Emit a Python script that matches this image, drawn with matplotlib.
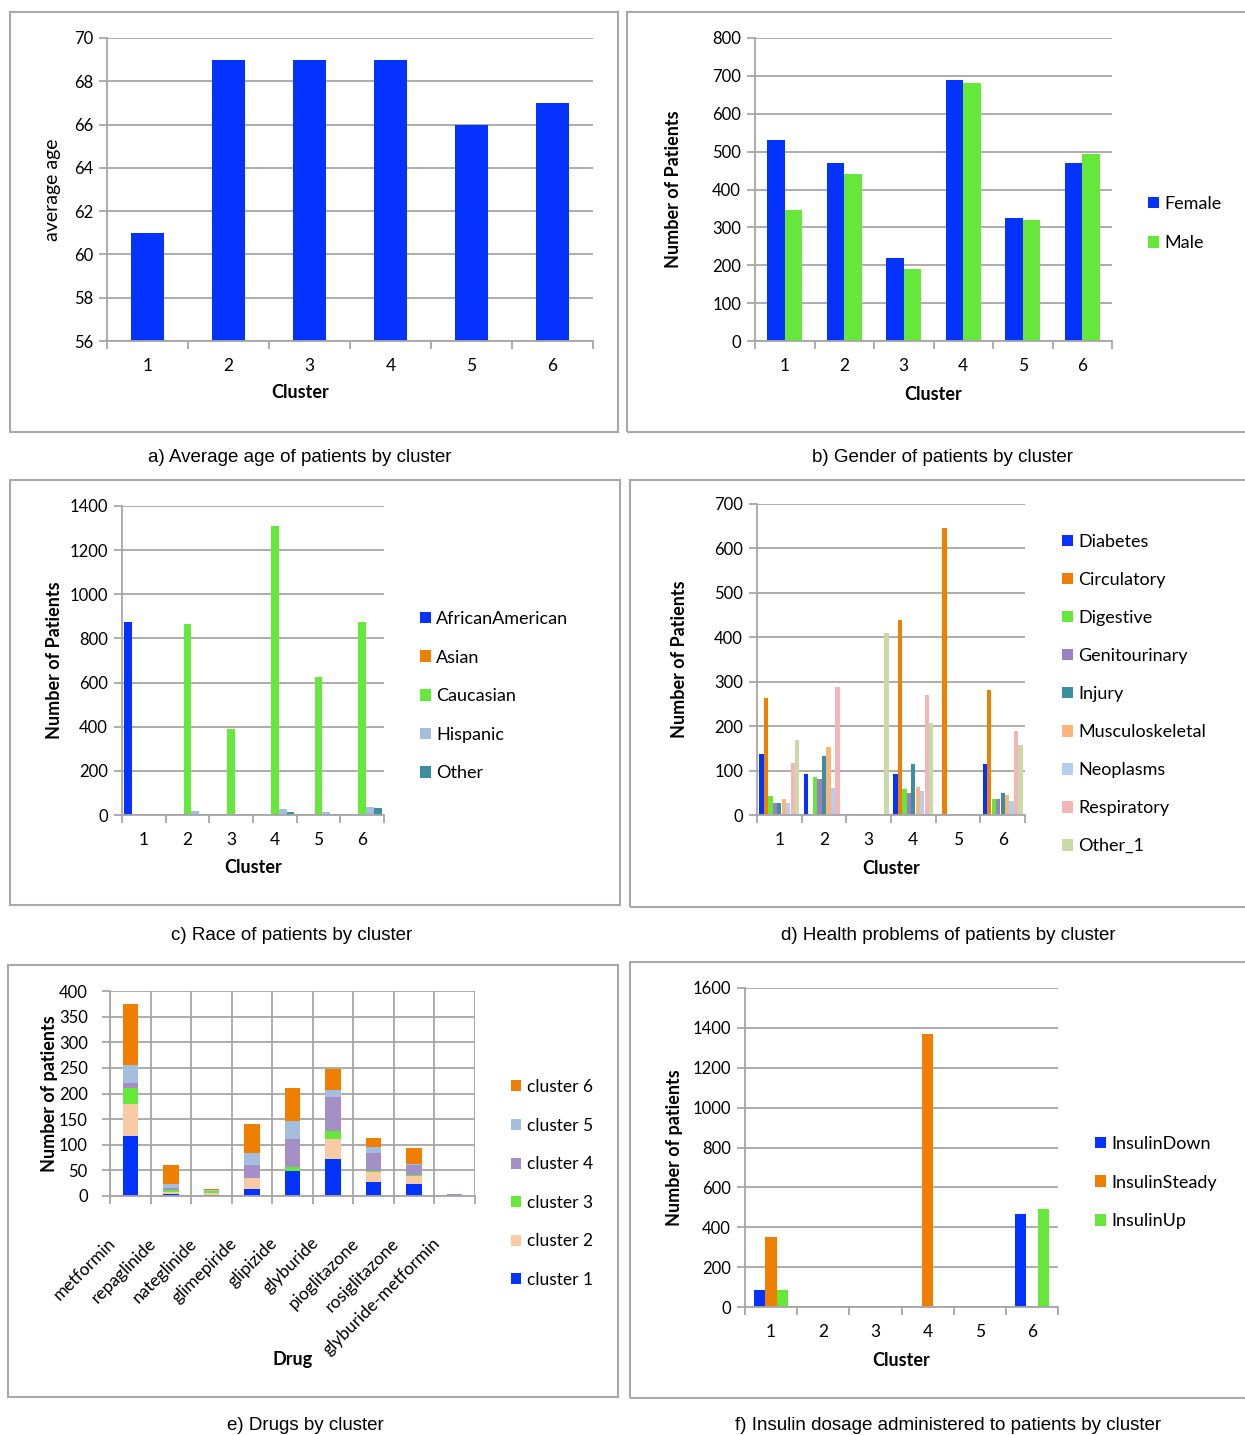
import matplotlib
matplotlib.use('Agg')
import matplotlib.pyplot as plt
from matplotlib.patches import Rectangle, Patch
from matplotlib.transforms import ScaledTranslation
import numpy as np

plt.rcParams['font.family'] = ['Lato', 'DejaVu Sans']

W, H = 1245, 1435

# ---- data ----
clusters = ['1', '2', '3', '4', '5', '6']

avg_age = [61, 69, 69, 69, 66, 67]

female = [530, 470, 220, 690, 325, 470]
male = [345, 440, 190, 680, 320, 495]

race_names = ['AfricanAmerican', 'Asian', 'Caucasian', 'Hispanic', 'Other']
african_american = [875, 0, 0, 0, 0, 0]
asian = [0, 2, 2, 2, 2, 2]
caucasian = [0, 865, 390, 1310, 625, 875]
hispanic = [0, 18, 4, 28, 12, 37]
other_race = [0, 0, 1, 12, 3, 30]

health_names = ['Diabetes', 'Circulatory', 'Digestive', 'Genitourinary', 'Injury',
                'Musculoskeletal', 'Neoplasms', 'Respiratory', 'Other_1']
diabetes = [137, 93, 0, 93, 0, 114]
circulatory = [264, 0, 0, 440, 645, 281]
digestive = [43, 85, 0, 59, 0, 37]
genitourinary = [28, 80, 0, 50, 0, 37]
injury = [28, 132, 0, 114, 0, 50]
musculoskeletal = [36, 154, 0, 64, 0, 46]
neoplasms = [28, 60, 0, 54, 0, 31]
respiratory = [116, 288, 0, 270, 0, 189]
other_1 = [169, 0, 409, 208, 0, 157]

drugs = ['metformin', 'repaglinide', 'nateglinide', 'glimepiride', 'glipizide',
         'glyburide', 'pioglitazone', 'rosiglitazone', 'glyburide-metformin']
drug_c1 = [118, 3, 1, 13, 49, 72, 27, 24, 0]
drug_c2 = [62, 5, 4, 23, 0, 40, 20, 15, 0]
drug_c3 = [30, 3, 4, 0, 8, 15, 1, 2, 0]
drug_c4 = [10, 5, 1, 24, 55, 67, 35, 20, 4]
drug_c5 = [35, 8, 1, 23, 34, 13, 12, 1, 0]
drug_c6 = [119, 37, 2, 57, 64, 41, 19, 31, 0]

insulin_names = ['InsulinDown', 'InsulinSteady', 'InsulinUp']
insulin_down = [85, 0, 0, 0, 0, 465]
insulin_steady = [350, 0, 0, 1370, 0, 0]
insulin_up = [85, 0, 0, 0, 0, 490]

# ---- colours ----
BLUE = '#0433FF'
GREEN = '#66E83A'
ORANGE = '#EE7F00'
GRID = '#a6a6a6'

fig = plt.figure(figsize=(W / 100, H / 100), dpi=100)


def px_axes(x0, y0, x1, y1):
    return fig.add_axes([x0 / W, 1 - y1 / H, (x1 - x0) / W, (y1 - y0) / H])


def frame(x0, y0, x1, y1):
    fig.patches.append(Rectangle((x0 / W, 1 - y1 / H), (x1 - x0) / W, (y1 - y0) / H,
                                 transform=fig.transFigure, fill=False,
                                 edgecolor='#a8a8a8', lw=1.5))


def caption(x, y, s):
    fig.text(x / W, 1 - y / H, s, ha='center', va='center', fontsize=13.5,
             family=['Liberation Sans', 'DejaVu Sans'])


def style(ax, labels, ymin, ymax, step, xlabel, ylabel, ybold=True,
          xpad=12, xlabelpad=9, ylabelpad=4):
    n = len(labels)
    ax.set_xlim(0.5, n + 0.5)
    ax.set_ylim(ymin, ymax)
    ax.set_yticks(np.arange(ymin, ymax + step / 2, step))
    ax.set_xticks(range(1, n + 1))
    ax.set_xticklabels(labels)
    ax.set_xticks(np.arange(0.5, n + 1), minor=True)
    ax.tick_params(axis='x', which='major', length=0, pad=xpad, labelsize=12.5)
    ax.tick_params(axis='x', which='minor', length=6, color=GRID, width=1.3)
    ax.tick_params(axis='y', length=6, color=GRID, width=1.3, labelsize=12, pad=4)
    ax.yaxis.grid(True, color=GRID, lw=1.3)
    ax.set_axisbelow(True)
    for s in ['top', 'right']:
        ax.spines[s].set_visible(False)
    for s in ['left', 'bottom']:
        ax.spines[s].set_color(GRID)
        ax.spines[s].set_linewidth(1.3)
    ax.set_xlabel(xlabel, fontsize=13, fontweight='bold', labelpad=xlabelpad)
    ax.set_ylabel(ylabel, fontsize=13 if ybold else 14,
                  fontweight='bold' if ybold else 'normal', labelpad=ylabelpad)


def legend(ax, names, colors, x, y, spacing=1.3, size=13):
    handles = [Patch(facecolor=c, edgecolor='none') for c in colors]
    ax.legend(handles, names, loc='upper left', bbox_to_anchor=(x / W, 1 - y / H),
              bbox_transform=fig.transFigure, frameon=False, fontsize=size,
              handlelength=0.6, handleheight=0.6, handletextpad=0.3,
              labelspacing=spacing, borderaxespad=0, borderpad=0)


x = np.arange(1, 7)

# ---- a) average age ----
frame(10, 12, 618, 432)
ax = px_axes(107, 38, 593, 341)
ax.bar(x, avg_age, width=0.41, color=BLUE)
style(ax, clusters, 56, 70, 2, 'Cluster', 'average age', ybold=False, ylabelpad=9)
ax.xaxis.set_label_coords((300 - 107) / (593 - 107), -(392 - 341) / (341 - 38))
ax.xaxis.label.set_va('center')
caption(300, 458, 'a) Average age of patients by cluster')

# ---- b) gender ----
frame(627, 12, 1250, 432)
ax = px_axes(755, 38, 1112, 341)
ax.bar(x - 0.145, female, width=0.29, color=BLUE)
ax.bar(x + 0.145, male, width=0.29, color=GREEN)
style(ax, clusters, 0, 800, 100, 'Cluster', 'Number of Patients', ylabelpad=22)
legend(ax, ['Female', 'Male'], [BLUE, GREEN], 1148, 196, spacing=1.3)
caption(942, 458, 'b) Gender of patients by cluster')

# ---- c) race ----
frame(10, 480, 620, 905)
ax = px_axes(122, 506, 384, 815)
race_vals = [african_american, asian, caucasian, hispanic, other_race]
race_cols = [BLUE, ORANGE, GREEN, '#A4BEDD', '#3A8FA0']
for i, (vals, col) in enumerate(zip(race_vals, race_cols)):
    ax.bar(x + (i - 2) * 0.18, vals, width=0.18, color=col)
style(ax, clusters, 0, 1400, 200, 'Cluster', 'Number of Patients',
      xlabelpad=8, ylabelpad=5)
legend(ax, race_names, race_cols, 420, 611, spacing=1.25)
caption(292, 936, 'c) Race of patients by cluster')

# ---- d) health problems ----
frame(630, 480, 1250, 907)
ax = px_axes(757, 504, 1025, 815)
health_vals = [diabetes, circulatory, digestive, genitourinary, injury,
               musculoskeletal, neoplasms, respiratory, other_1]
health_cols = [BLUE, ORANGE, GREEN, '#9A80C0', '#3A8FA0', '#F9B57A', '#B5CDF0',
               '#F3B5B5', '#C9D9A8']
for i, (vals, col) in enumerate(zip(health_vals, health_cols)):
    ax.bar(x + (i - 4) * 0.1, vals, width=0.095, color=col)
style(ax, clusters, 0, 700, 100, 'Cluster', 'Number of Patients', ylabelpad=19)
legend(ax, health_names, health_cols, 1062, 534, spacing=1.22)
caption(948, 936, 'd) Health problems of patients by cluster')

# ---- e) drugs ----
frame(8, 965, 618, 1397)
ax = px_axes(110, 991, 475, 1196)
xd = np.arange(1, len(drugs) + 1)
drug_vals = [drug_c1, drug_c2, drug_c3, drug_c4, drug_c5, drug_c6]
drug_cols = [BLUE, '#F9CBA4', GREEN, '#A58FC6', '#A4BEDD', ORANGE]
bottom = np.zeros(len(drugs))
for vals, col in zip(drug_vals, drug_cols):
    ax.bar(xd, vals, width=0.38, bottom=bottom, color=col)
    bottom += np.array(vals)
style(ax, drugs, 0, 400, 50, 'Drug', 'Number of patients', xpad=28, ylabelpad=1)
ax.tick_params(axis='y', pad=10)
ax.xaxis.grid(True, which='minor', color=GRID, lw=1.3)
shift = ScaledTranslation(-23 / 100, 0, fig.dpi_scale_trans)
for lab in ax.get_xticklabels():
    lab.set_rotation(45)
    lab.set_ha('right')
    lab.set_rotation_mode('anchor')
    lab.set_transform(lab.get_transform() + shift)
ax.xaxis.set_label_coords((293 - 110) / (475 - 110), -(1360 - 1196) / (1196 - 991))
ax.xaxis.label.set_va('center')
names_e = ['cluster %d' % k for k in range(6, 0, -1)]
legend(ax, names_e, drug_cols[::-1], 511, 1079, spacing=1.3, size=12.5)
caption(305, 1425, 'e) Drugs by cluster')

# ---- f) insulin ----
frame(630, 962, 1250, 1398)
ax = px_axes(745, 988, 1058, 1307)
ins_vals = [insulin_down, insulin_steady, insulin_up]
ins_cols = [BLUE, ORANGE, GREEN]
for i, (vals, col) in enumerate(zip(ins_vals, ins_cols)):
    ax.bar(x + (i - 1) * 0.22, vals, width=0.22, color=col)
style(ax, clusters, 0, 1600, 200, 'Cluster', 'Number of patients', ylabelpad=7)
legend(ax, insulin_names, ins_cols, 1095, 1136, spacing=1.25)
caption(948, 1425, 'f) Insulin dosage administered to patients by cluster')

fig.savefig('out.png', dpi=100)
